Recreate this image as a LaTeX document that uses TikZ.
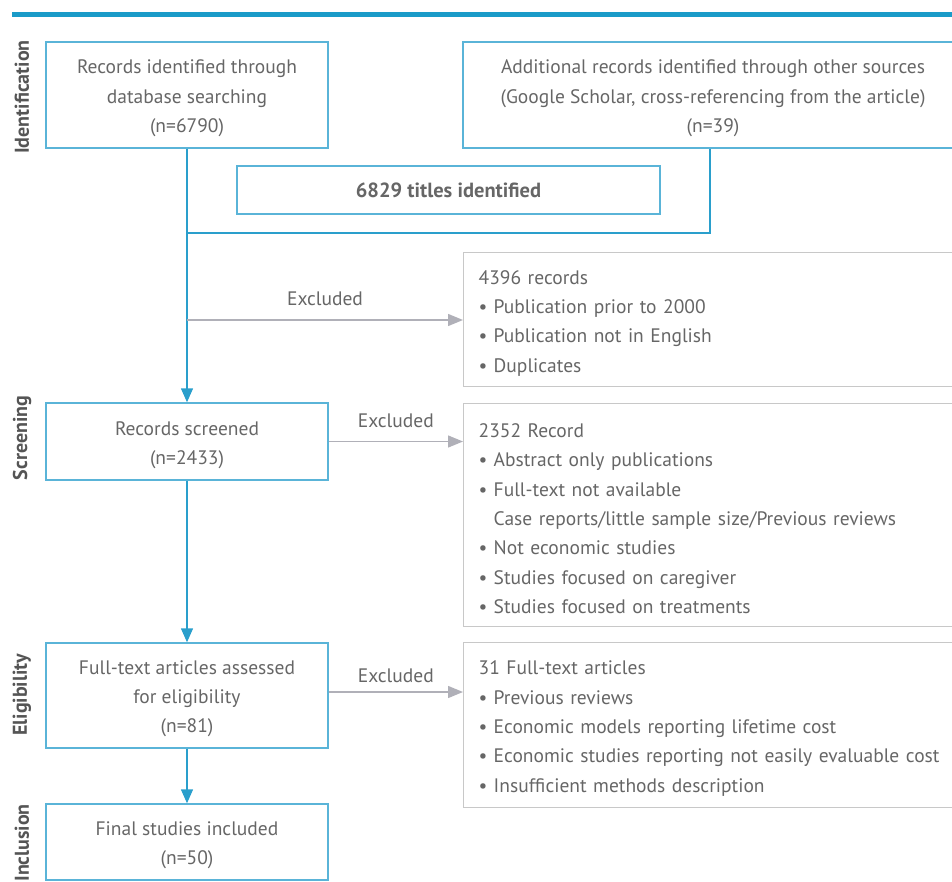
\documentclass[tikz,border=0pt]{standalone}
\usepackage{fontspec}
\setmainfont{PT Sans}
\usetikzlibrary{arrows.meta,calc}
\definecolor{txt}{HTML}{666666}
\definecolor{lbl}{HTML}{555555}
\definecolor{bluebar}{HTML}{1A9BC8}
\definecolor{bluebox}{HTML}{5AB4D8}
\definecolor{bluearr}{HTML}{2A9FCC}
\definecolor{graybox}{HTML}{C8C8C8}
\definecolor{grayarr}{HTML}{B0B0B8}
\newcommand\bul{\makebox[15pt][l]{\textbullet}}
\newcommand\ind{\hspace*{15pt}}
\newcommand\up{\rule{0pt}{\dimexpr\fontcharht\font`d+7pt\relax}}
\tikzset{
  txtfont/.style={font=\fontsize{19.5}{29.3}\selectfont, text=txt},
  bluenode/.style={draw=bluebox, line width=1.4pt, txtfont, align=center, inner sep=0pt},
  graynode/.style={draw=graybox, line width=1.4pt, txtfont, align=left, inner xsep=15pt, inner ysep=0pt, text width=467pt, minimum width=497pt, anchor=north west},
  bluearrow/.style={draw=bluearr, line width=1.4pt, -{Triangle[length=14pt,width=12pt]}},
  blueline/.style={draw=bluearr, line width=1.4pt},
  grayarrow/.style={draw=grayarr, line width=1.4pt, -{Triangle[length=15pt,width=12pt]}},
  exlabel/.style={txtfont, above},
  sidelabel/.style={font=\fontsize{20}{22}\selectfont\bfseries, text=lbl, rotate=90},
}
\begin{document}
\begin{tikzpicture}[x=1pt,y=-1pt]
\useasboundingbox (0,0) rectangle (952,882);
\fill[bluebar] (12,12.5) rectangle (960,17.5);

% side labels
\node[sidelabel] (sid) at (22,97) {Identification};
\node[sidelabel] (ssc) at (22,438) {Screening};
\node[sidelabel] (sel) at (22,695) {Eligibility};
\node[sidelabel] (sin) at (22,843) {Inclusion};

% left column
\node[bluenode, minimum width=282pt, minimum height=106pt] (db) at (187,95)
  {\up Records identified through\\database searching\\(n=6790)};
\node[bluenode, minimum width=500pt, minimum height=106pt] (other) at (713,95)
  {\up Additional records identified through other sources\\(Google Scholar, cross-referencing from the article)\\(n=39)};
\node[bluenode, minimum width=423pt, minimum height=48pt, font=\fontsize{20.5}{22}\selectfont\bfseries] (titles) at (448.5,190)
  {6829 titles identified};
\node[bluenode, minimum width=282pt, minimum height=77pt] (screen) at (187,441.5)
  {\up Records screened\\(n=2433)};
\node[bluenode, minimum width=282pt, minimum height=105pt] (elig) at (187,695.5)
  {\up Full-text articles assessed\\for eligibility\\(n=81)};
\node[bluenode, minimum width=282pt, minimum height=76pt] (incl) at (187,842)
  {\up Final studies included\\(n=50)};

% right column (exclusions)
\node[graynode, minimum height=134pt] (ex1) at (463,252)
  {\up 4396 records\\\bul Publication prior to 2000\\\bul Publication not in English\\\bul Duplicates};
\node[graynode, minimum height=223pt] (ex2) at (463,403)
  {\up 2352 Record\\\bul Abstract only publications\\\bul Full-text not available\\\ind Case reports/little sample size/Previous reviews\\\bul Not economic studies\\\bul Studies focused on caregiver\\\bul Studies focused on treatments};
\node[graynode, minimum height=165pt] (ex3) at (463,642)
  {\up 31 Full-text articles\\\bul Previous reviews\\\bul Economic models reporting lifetime cost\\\bul Economic studies reporting not easily evaluable cost\\\bul Insufficient methods description};

% connectors
\coordinate (j1) at (187,233);
\coordinate (j2) at (710,233);
\coordinate (e1) at (187,320);
\draw[blueline] (other.south -| j2) -- (j2) -- (j1);
\draw[bluearrow] (db.south) -- (screen.north);
\draw[grayarrow] (e1) -- node[exlabel, yshift=10pt] {Excluded} (e1 -| ex1.west);
\draw[grayarrow] (screen.east) -- node[exlabel, yshift=9.5pt] {Excluded} (screen.east -| ex2.west);
\draw[bluearrow] (screen.south) -- (elig.north);
\draw[grayarrow] ([yshift=3.5pt]elig.east) -- node[exlabel, yshift=5pt] {Excluded} ([yshift=3.5pt]elig.east -| ex3.west);
\draw[bluearrow] (elig.south) -- (incl.north);
\end{tikzpicture}
\end{document}
